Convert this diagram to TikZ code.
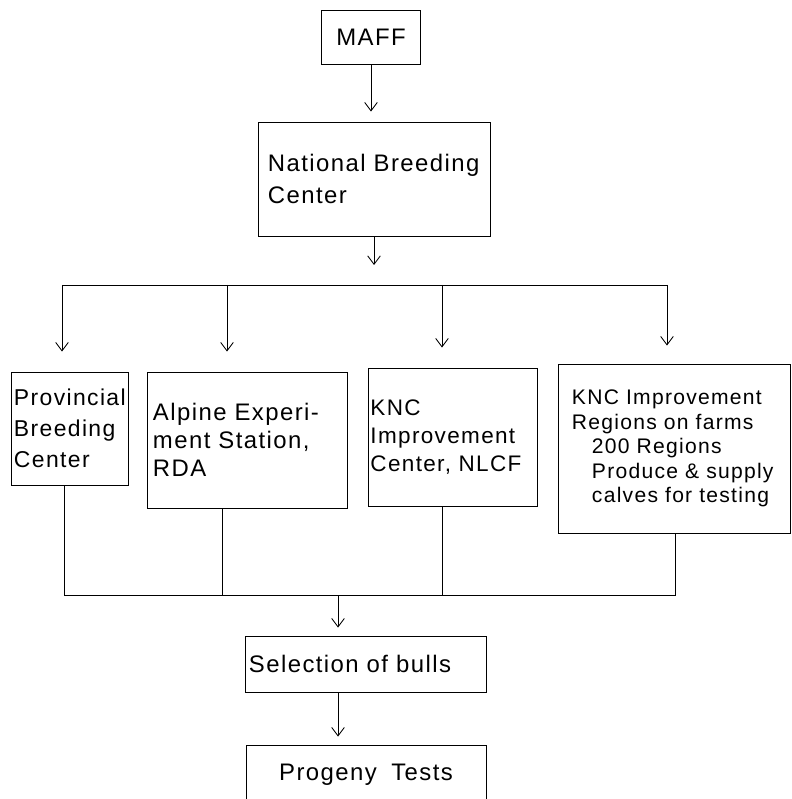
\documentclass[tikz,border=0pt]{standalone}
\usepackage{fontspec}
\setmainfont{Liberation Sans}[LetterSpace=6,WordSpace=1.8]
\usetikzlibrary{arrows.meta}

\tikzset{
  box/.style={draw, line width=0.6pt, align=left, inner ysep=0pt, font=\fontsize{17}{20}\selectfont},
  arr/.style={-{Straight Barb[length=6pt,width=9pt]}, line width=0.6pt},
  link/.style={line width=0.6pt},
}

\begin{document}
\begin{tikzpicture}[x=0.025cm,y=-0.025cm]
  \clip (0,0) rectangle (791,799);
  \fill[white] (0,0) rectangle (791,799);
  % boxes
  \node[box, align=center, minimum width=2.475cm, minimum height=1.35cm] (maff) at (371,37) {MAFF};
  \node[box, text width=5.3cm, inner xsep=0.25cm, minimum height=2.85cm,
        font=\fontsize{17}{23}\selectfont] (nbc) at (374,179) {National Breeding\\Center};
  \node[box, text width=2.775cm, inner xsep=0.075cm, minimum height=2.825cm,
        font=\fontsize{16.3}{22}\selectfont] (prov) at (69.5,428.5) {Provincial\\Breeding\\Center};
  \node[box, text width=4.7cm, inner xsep=0.15cm, minimum height=3.4cm] (alpine) at (247,440)
        {Alpine Experi-\\ment Station,\\RDA};
  \node[box, text width=4.1cm, inner xsep=0.0625cm, minimum height=3.45cm,
        font=\fontsize{16}{20}\selectfont] (kncc) at (452.5,437)
        {KNC\\Improvement\\Center,~NLCF};
  \node[box, text width=5.1cm, inner xsep=0.35cm, minimum height=4.225cm,
        font=\fontsize{15}{17.4}\selectfont] (kncr) at (674,448.5)
        {KNC Improvement\\Regions on farms\\\hspace*{0.5cm}200 Regions\\\hspace*{0.5cm}Produce \& supply\\\hspace*{0.5cm}calves for testing};
  \node[box, text width=5.825cm, inner xsep=0.1cm, minimum height=1.4cm] (sel) at (365.5,664) {Selection of bulls};
  \node[box, align=center, minimum width=6cm, minimum height=1.5cm] (prog) at (366,775) {Progeny Tests};
  % rails
  \coordinate (a1) at (62,285);
  \coordinate (a2) at (227,285);
  \coordinate (a3) at (442,285);
  \coordinate (a4) at (667,285);
  \coordinate (b1) at (64,595);
  \coordinate (b2) at (222,595);
  \coordinate (b0) at (338,595);
  \coordinate (b3) at (442,595);
  \coordinate (b4) at (675,595);
  % arrows down
  \draw[arr, shorten >=0.25cm] (maff.south) -- (maff.south |- nbc.north);
  \draw[arr, shorten >=0.5cm] (nbc.south) -- (nbc.south |- a1);
  \draw[link] (a1) -- (a4);
  \draw[arr, shorten >=0.5cm] (a1) -- (a1 |- prov.north);
  \draw[arr, shorten >=0.5cm] (a2) -- (a2 |- alpine.north);
  \draw[arr, shorten >=0.5cm] (a3) -- (a3 |- kncc.north);
  \draw[arr, shorten >=0.45cm] (a4) -- (a4 |- kncr.north);
  % collecting
  \draw[link] (prov.south -| b1) -- (b1) -- (b4) -- (b4 |- kncr.south);
  \draw[link] (alpine.south -| b2) -- (b2);
  \draw[link] (kncc.south -| b3) -- (b3);
  \draw[arr, shorten >=0.2cm] (b0) -- (b0 |- sel.north);
  \draw[arr, shorten >=0.2cm] (sel.south -| b0) -- (b0 |- prog.north);
\end{tikzpicture}
\end{document}
